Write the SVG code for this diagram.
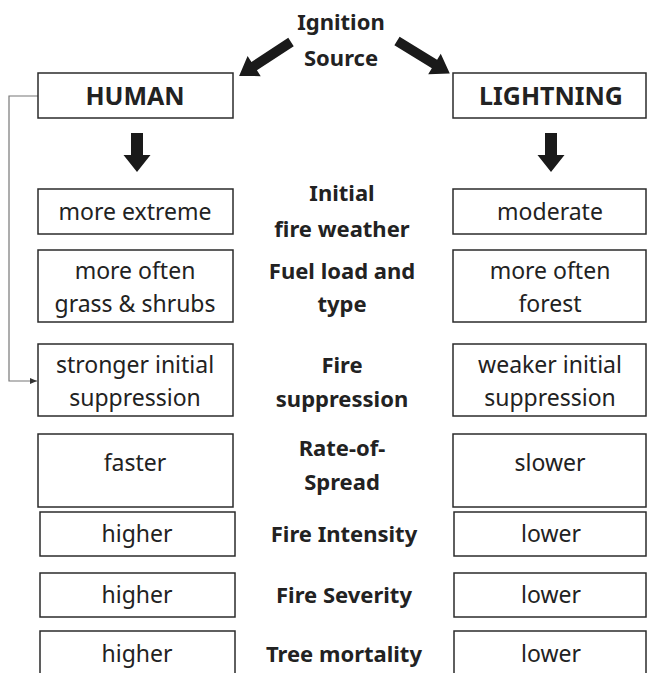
<svg xmlns="http://www.w3.org/2000/svg" width="648" height="673" viewBox="0 0 648 673">
<style>
.box{fill:#fff;stroke:#2b2b2b;stroke-width:1.5}
.t{font-family:"Noto Sans","Open Sans",sans-serif;font-size:23px;fill:#222;text-anchor:middle}
.b{font-family:"Noto Sans","Open Sans",sans-serif;font-size:22px;font-weight:bold;fill:#222;text-anchor:middle}
.h{font-size:25px}
.arr{fill:#1a1a1a}
</style>
<defs>
<path id="diag" d="M0,-5 h44 v-7 l18,12 l-18,12 v-7 h-44 z"/>
<path id="down" d="M-6,0 h12 v22 h7.5 l-13.5,17 l-13.5,-17 h7.5 z"/>
<marker id="m" markerWidth="8" markerHeight="8" refX="7" refY="4" orient="auto" markerUnits="userSpaceOnUse">
<path d="M0,1 L7,4 L0,7 z" fill="#333"/>
</marker>
</defs>
<g id="connectors">
<use href="#diag" class="arr" transform="translate(291,42) rotate(146.8)"/>
<use href="#diag" class="arr" transform="translate(397,41) rotate(31.6)"/>
<use href="#down" class="arr" transform="translate(137,133)"/>
<use href="#down" class="arr" transform="translate(551,133)"/>
<polyline points="38,96 9,96 9,381 37,381" fill="none" stroke="#777" stroke-width="1.2" marker-end="url(#m)"/>
</g>
<g id="ignition"><text class="b" x="341" y="30">Ignition</text><text class="b" x="341" y="66">Source</text></g>
<g id="human"><rect class="box" x="38" y="73" width="195" height="45"/><text class="b h" x="135" y="105">HUMAN</text></g>
<g id="lightning"><rect class="box" x="453" y="73" width="193" height="45"/><text class="b h" x="551" y="105">LIGHTNING</text></g>
<g id="r1l"><rect class="box" x="38" y="189" width="195" height="45"/><text class="t" x="135" y="220">more extreme</text></g>
<g id="r1c"><text class="b" x="342" y="201">Initial</text><text class="b" x="342" y="237">fire weather</text></g>
<g id="r1r"><rect class="box" x="453" y="189" width="193" height="45"/><text class="t" x="550" y="220">moderate</text></g>
<g id="r2l"><rect class="box" x="38" y="250" width="195" height="72"/><text class="t" x="135" y="279">more often</text><text class="t" x="135" y="312">grass &amp; shrubs</text></g>
<g id="r2c"><text class="b" x="342" y="279">Fuel load and</text><text class="b" x="342" y="312">type</text></g>
<g id="r2r"><rect class="box" x="453" y="250" width="193" height="72"/><text class="t" x="550" y="279">more often</text><text class="t" x="550" y="312">forest</text></g>
<g id="r3l"><rect class="box" x="38" y="344" width="195" height="72"/><text class="t" x="135" y="373">stronger initial</text><text class="t" x="135" y="406">suppression</text></g>
<g id="r3c"><text class="b" x="342" y="373">Fire</text><text class="b" x="342" y="407">suppression</text></g>
<g id="r3r"><rect class="box" x="453" y="344" width="193" height="72"/><text class="t" x="550" y="373">weaker initial</text><text class="t" x="550" y="406">suppression</text></g>
<g id="r4l"><rect class="box" x="38" y="434" width="195" height="73"/><text class="t" x="135" y="471">faster</text></g>
<g id="r4c"><text class="b" x="342" y="456">Rate-of-</text><text class="b" x="342" y="490">Spread</text></g>
<g id="r4r"><rect class="box" x="453" y="434" width="193" height="73"/><text class="t" x="550" y="471">slower</text></g>
<g id="r5l"><rect class="box" x="40" y="512" width="195" height="44"/><text class="t" x="137" y="542">higher</text></g>
<g id="r5c"><text class="b" x="344" y="542">Fire Intensity</text></g>
<g id="r5r"><rect class="box" x="454" y="512" width="192" height="44"/><text class="t" x="551" y="542">lower</text></g>
<g id="r6l"><rect class="box" x="40" y="573" width="195" height="44"/><text class="t" x="137" y="603">higher</text></g>
<g id="r6c"><text class="b" x="344" y="603">Fire Severity</text></g>
<g id="r6r"><rect class="box" x="454" y="573" width="192" height="44"/><text class="t" x="551" y="603">lower</text></g>
<g id="r7l"><rect class="box" x="40" y="631" width="195" height="50"/><text class="t" x="137" y="662">higher</text></g>
<g id="r7c"><text class="b" x="344" y="662">Tree mortality</text></g>
<g id="r7r"><rect class="box" x="454" y="631" width="192" height="50"/><text class="t" x="551" y="662">lower</text></g>
</svg>
